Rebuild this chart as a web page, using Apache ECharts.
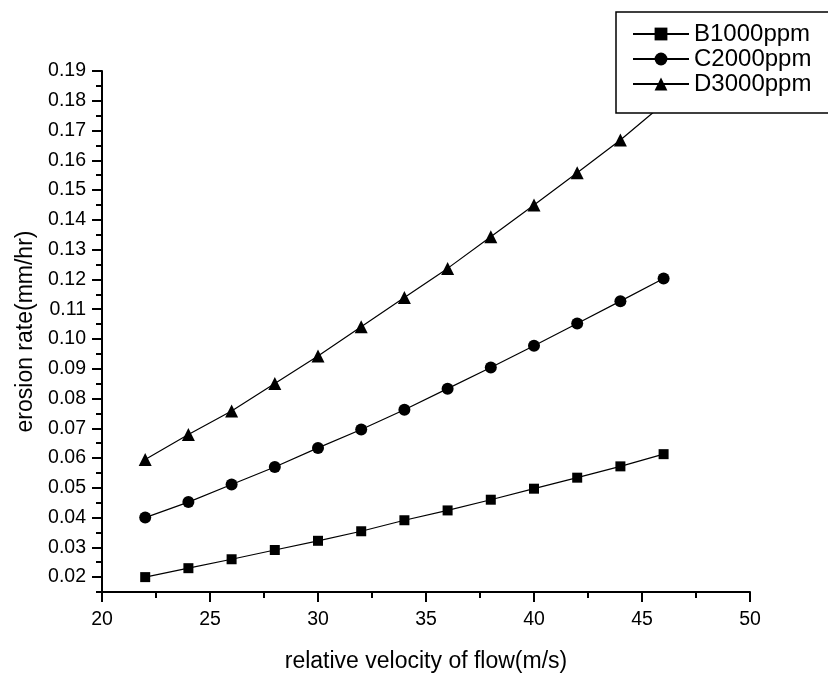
<!DOCTYPE html>
<html lang="en">
<head>
    <meta charset="UTF-8">
    <title>erosion rate</title>
    <script src="https://cdn.jsdelivr.net/npm/echarts@6/dist/echarts.min.js"></script>
    <style>
        html, body { margin: 0; padding: 0; background: #fff; }
    </style>
</head>
<body>
<div id="myChart" style="width:828px;height:674px"></div>
<script type="text/javascript">
    // data
    var velocity = [22, 24, 26, 28, 30, 32, 34, 36, 38, 40, 42, 44, 46];
    var b1000 = [0.0200, 0.0230, 0.0260, 0.0291, 0.0322, 0.0354, 0.0391, 0.0424, 0.0460, 0.0497, 0.0534, 0.0572, 0.0613];
    var c2000 = [0.0400, 0.0452, 0.0511, 0.0570, 0.0634, 0.0696, 0.0762, 0.0833, 0.0904, 0.0977, 0.1052, 0.1127, 0.1203];
    var d3000 = [0.0595, 0.0679, 0.0758, 0.0850, 0.0943, 0.1041, 0.1139, 0.1237, 0.1343, 0.1450, 0.1558, 0.1668, 0.1790];
    var seriesNames = ['B1000ppm', 'C2000ppm', 'D3000ppm'];
    var yTicks = [0.02, 0.03, 0.04, 0.05, 0.06, 0.07, 0.08, 0.09, 0.10, 0.11, 0.12, 0.13, 0.14, 0.15, 0.16, 0.17, 0.18, 0.19];
    var yMinorTicks = [0.015].concat(yTicks.map(function (v) { return v + 0.005; })).filter(function (v) { return v < 0.19; });

    function pairs(ys) {
        return velocity.map(function (x, i) { return [x, ys[i]]; });
    }

    var font = '"Liberation Sans", Arial, sans-serif';
    var myChart = echarts.init(document.getElementById('myChart'));

    function lineSeries(name, ys, symbol, size) {
        return {
            name: name,
            type: 'line',
            data: pairs(ys),
            symbol: symbol,
            symbolSize: size,
            showAllSymbol: true,
            lineStyle: { color: '#000', width: 1.2 },
            itemStyle: { color: '#000' },
            emphasis: { disabled: true },
            z: 2
        };
    }

    myChart.setOption({
        animation: false,
        textStyle: { fontFamily: font },
        grid: { left: 102, right: 78, top: 71, bottom: 82, outerBoundsMode: 'none', containLabel: false },
        legend: {
            orient: 'vertical',
            left: 616,
            top: 12,
            data: seriesNames,
            itemWidth: 56,
            itemHeight: 16,
            itemGap: 1,
            padding: [10, 60, 17, 16],
            backgroundColor: '#fff',
            borderColor: '#000',
            borderWidth: 1.5,
            borderRadius: 0,
            textStyle: { color: '#000', fontSize: 24, fontFamily: font },
            z: 10
        },
        xAxis: {
            type: 'value',
            min: 20,
            max: 50,
            interval: 5,
            name: 'relative velocity of flow(m/s)',
            nameLocation: 'middle',
            nameGap: 58,
            nameTextStyle: { color: '#000', fontSize: 23 },
            axisLine: { lineStyle: { color: '#000', width: 2 } },
            axisTick: { length: 10, lineStyle: { color: '#000', width: 2 } },
            minorTick: { show: true, splitNumber: 2, length: 6, lineStyle: { color: '#000', width: 2 } },
            axisLabel: { color: '#000', fontSize: 19.5, margin: 18 },
            splitLine: { show: false }
        },
        yAxis: [{
            type: 'value',
            min: 0.015,
            max: 0.19,
            name: 'erosion rate(mm/hr)',
            nameLocation: 'middle',
            nameGap: 65,
            nameTextStyle: { color: '#000', fontSize: 23 },
            axisLine: { show: true, lineStyle: { color: '#000', width: 2 } },
            axisTick: { show: true, length: 10, customValues: yTicks, lineStyle: { color: '#000', width: 2 } },
            axisLabel: {
                color: '#000', fontSize: 19.5, margin: 16,
                customValues: yTicks,
                formatter: function (v) { return v.toFixed(2); }
            },
            splitLine: { show: false }
        }, {
            type: 'value',
            position: 'left',
            min: 0.015,
            max: 0.19,
            axisLine: { show: false },
            axisTick: { show: true, length: 6, customValues: yMinorTicks, lineStyle: { color: '#000', width: 2 } },
            axisLabel: { show: false },
            splitLine: { show: false }
        }],
        series: [
            lineSeries(seriesNames[0], b1000, 'rect', 10),
            lineSeries(seriesNames[1], c2000, 'circle', 12),
            lineSeries(seriesNames[2], d3000, 'triangle', 13)
        ]
    });
</script>
</body>
</html>
